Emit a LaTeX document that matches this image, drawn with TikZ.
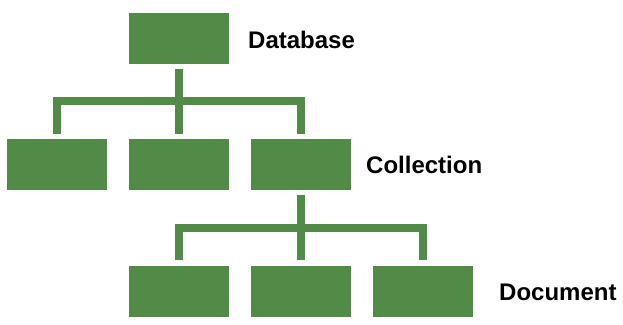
\documentclass[tikz,border=0pt]{standalone}
\usepackage{fontspec}
\setmainfont{Liberation Sans}
\usepackage{tikz}
\usetikzlibrary{positioning,calc}
\definecolor{treegreen}{RGB}{81,139,71}

\begin{document}
\begin{tikzpicture}[
    x=1bp, y=-1bp,
    box/.style={fill=treegreen, minimum width=100bp, minimum height=51bp, inner sep=0pt},
    conn/.style={draw=treegreen, line width=8bp, line join=miter},
    lbl/.style={anchor=west, inner sep=0pt, font=\fontsize{24bp}{28bp}\selectfont\bfseries}
]
\useasboundingbox (0,0) rectangle (623,324);
\node[box] (db) at (179,38) {};
\node[box] (coll1) at (57,164.5) {};
\node[box] (coll2) at (179,164.5) {};
\node[box] (coll3) at (301,164.5) {};
\node[box] (doc1) at (179,291) {};
\node[box] (doc2) at (301,291) {};
\node[box] (doc3) at (423,291) {};
\coordinate (bar1) at (179,101);
\coordinate (bar2) at (301,228);

\node[lbl] (dblbl) at (248,40) {Database};
\node[lbl] (colllbl) at (366,165) {Collection};
\node[lbl] (doclbl) at (499,292) {Document};

\draw[conn] ([yshift=-5bp]db.south) -- ([yshift=5bp]coll2.north);
\draw[conn] ([yshift=5bp]coll1.north) |- (bar1) -| ([yshift=5bp]coll3.north);
\draw[conn] ([yshift=-5bp]coll3.south) -- ([yshift=5bp]doc2.north);
\draw[conn] ([yshift=5bp]doc1.north) |- (bar2) -| ([yshift=5bp]doc3.north);
\end{tikzpicture}
\end{document}
